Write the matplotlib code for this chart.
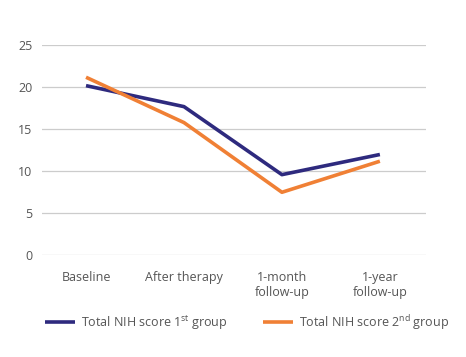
import matplotlib
matplotlib.use("Agg")
import matplotlib.pyplot as plt

categories = ["Baseline", "After therapy", "1-month\nfollow-up", "1-year\nfollow-up"]
group1 = [20.2, 17.7, 9.6, 12.0]
group2 = [21.2, 15.8, 7.5, 11.2]
yticks = [0, 5, 10, 15, 20, 25]
label1 = "Total NIH score 1$^{st}$ group"
label2 = "Total NIH score 2$^{nd}$ group"

plt.rcParams['font.family'] = ['Open Sans', 'DejaVu Sans']
plt.rcParams['mathtext.default'] = 'regular'

fig = plt.figure(figsize=(4.66, 3.57), dpi=100)
ax = fig.add_axes([0.090, 0.285, 0.824, 0.588])
x = list(range(len(categories)))
ax.plot(x, group1, color="#2E2A7E", lw=2.6, label=label1, solid_capstyle='butt')
ax.plot(x, group2, color="#F08035", lw=2.6, label=label2, solid_capstyle='butt')
ax.set_xlim(-0.45, 3.47)
ax.set_ylim(0, 25)
ax.set_yticks(yticks)
ax.set_xticks(x)
ax.set_xticklabels(categories, fontsize=9, color="#555555", linespacing=1.2)
ax.tick_params(axis='y', labelsize=9, labelcolor="#555555", length=0, pad=7)
ax.tick_params(axis='x', length=0, pad=11)
for s in ax.spines.values():
    s.set_visible(False)
ax.grid(axis='y', color="#cccccc", lw=0.9)
ax.set_axisbelow(True)
fig.legend(loc='center', bbox_to_anchor=(0.53, 0.097), ncol=2, frameon=False,
           fontsize=9, handlelength=2.4, handletextpad=0.5, columnspacing=2.8,
           labelcolor="#555555")
fig.savefig("out.png", dpi=100)
